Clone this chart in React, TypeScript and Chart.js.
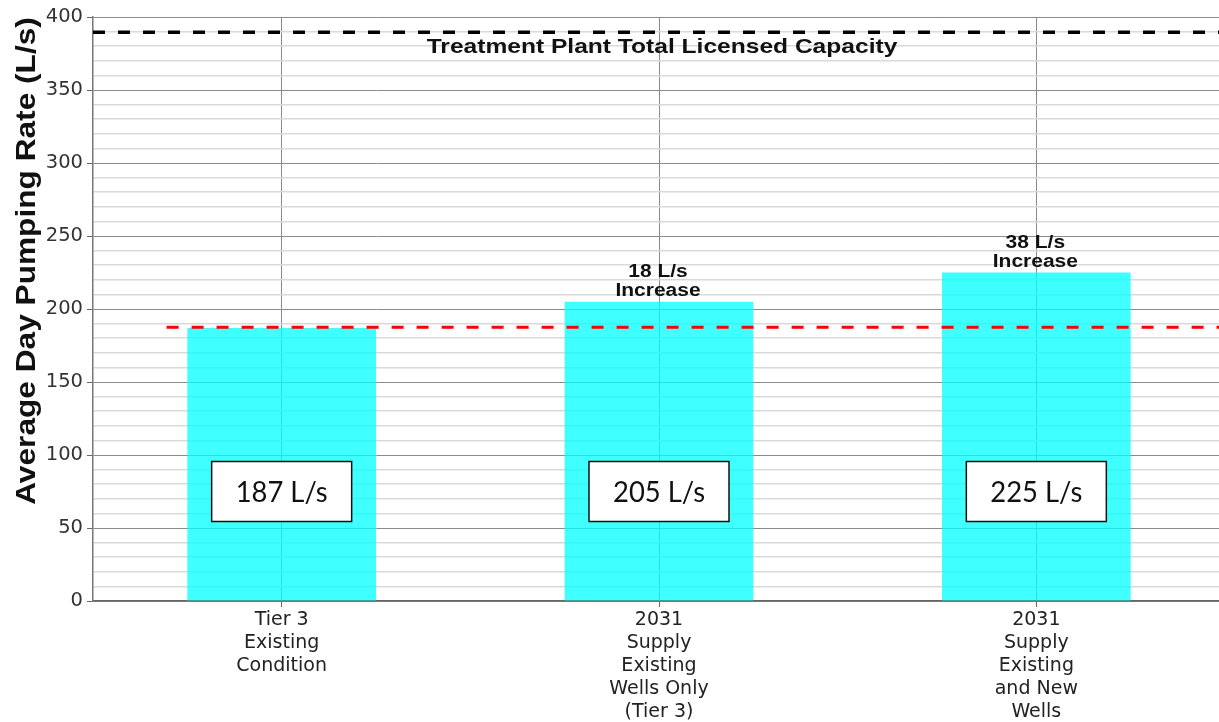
import React, { useEffect, useRef } from "react";
import { Chart, registerables } from "chart.js";

Chart.register(...registerables);

// ---- data ----
const categories: string[][] = [
  ["Tier 3", "Existing", "Condition"],
  ["2031", "Supply", "Existing", "Wells Only", "(Tier 3)"],
  ["2031", "Supply", "Existing", "and New", "Wells"],
];
const pumpingRates: number[] = [187, 205, 225];
const valueLabels: string[] = ["187 L/s", "205 L/s", "225 L/s"];
const increaseLabels: (string[] | null)[] = [null, ["18 L/s", "Increase"], ["38 L/s", "Increase"]];
const capacityValue = 389.5;
const capacityLabel = "Treatment Plant Total Licensed Capacity";
const existingValue = 187.5;
const yAxisTitle = "Average Day Pumping Rate (L/s)";
const yMin = 0;
const yMax = 400;
const yMinorStep = 10;
const yMajorStep = 50;
const valueBoxLevel = 75;

function drawStretched(
  ctx: CanvasRenderingContext2D,
  text: string,
  x: number,
  y: number,
  font: string,
  sx: number,
  color: string,
  rotate = 0
) {
  ctx.save();
  ctx.translate(x, y);
  if (rotate) ctx.rotate(rotate);
  ctx.scale(sx, 1);
  ctx.font = font;
  ctx.fillStyle = color;
  ctx.textAlign = "center";
  ctx.textBaseline = "alphabetic";
  ctx.fillText(text, 0, 0);
  ctx.restore();
}

const overlayPlugin = {
  id: "overlay",
  afterDatasetsDraw(chart: any) {
    const { ctx, chartArea } = chart;
    const xs = chart.scales.x;
    const ys = chart.scales.y;
    const catW = xs.getPixelForValue(1) - xs.getPixelForValue(0);
    ctx.save();

    // capacity line
    const yc = ys.getPixelForValue(capacityValue);
    ctx.setLineDash([12, 13]);
    ctx.lineWidth = 3.5;
    ctx.strokeStyle = "#000000";
    ctx.beginPath();
    ctx.moveTo(chartArea.left, yc);
    ctx.lineTo(chartArea.right, yc);
    ctx.stroke();

    // existing level line
    const ye = ys.getPixelForValue(existingValue);
    ctx.strokeStyle = "#ff0000";
    ctx.lineWidth = 3;
    ctx.beginPath();
    ctx.moveTo(xs.getPixelForValue(0) - catW * 0.305, ye);
    ctx.lineTo(chartArea.right, ye);
    ctx.stroke();
    ctx.setLineDash([]);

    // capacity label
    drawStretched(
      ctx,
      capacityLabel,
      (chartArea.left + chartArea.right) / 2 + 3,
      yc + 21,
      "bold 21px 'Liberation Sans', Arial, sans-serif",
      1.17,
      "#111111"
    );

    // increase labels
    increaseLabels.forEach((lines, i) => {
      if (!lines) return;
      const cx = xs.getPixelForValue(i) - 1;
      const top = ys.getPixelForValue(pumpingRates[i]);
      drawStretched(ctx, lines[0], cx, top - 25, "bold 17.5px 'Liberation Sans', Arial, sans-serif", 1.2, "#111111");
      drawStretched(ctx, lines[1], cx, top - 6, "bold 17.5px 'Liberation Sans', Arial, sans-serif", 1.2, "#111111");
    });

    // value boxes
    const by = ys.getPixelForValue(valueBoxLevel);
    valueLabels.forEach((label, i) => {
      const cx = xs.getPixelForValue(i);
      const bw = 140;
      const bh = 60;
      ctx.fillStyle = "#ffffff";
      ctx.fillRect(cx - bw / 2, by - bh / 2, bw, bh);
      ctx.lineWidth = 1.5;
      ctx.strokeStyle = "#111111";
      ctx.strokeRect(cx - bw / 2, by - bh / 2, bw, bh);
      ctx.font = "28px Lato, 'Open Sans', sans-serif";
      const w = ctx.measureText(label).width;
      drawStretched(ctx, label, cx, by + 10, "28px Lato, 'Open Sans', sans-serif", 92 / w, "#111111");
    });

    // y axis title
    drawStretched(
      ctx,
      yAxisTitle,
      35,
      261,
      "bold 28px 'Liberation Sans', Arial, sans-serif",
      1.13,
      "#111111",
      -Math.PI / 2
    );

    ctx.restore();
  },
};

export default function App() {
  const canvasRef = useRef<HTMLCanvasElement | null>(null);

  useEffect(() => {
    if (!canvasRef.current) return;
    const chart = new Chart(canvasRef.current, {
      type: "bar",
      data: {
        labels: categories,
        datasets: [
          {
            data: pumpingRates,
            backgroundColor: "rgba(0,255,255,0.75)",
            borderWidth: 0,
            barPercentage: 0.5,
            categoryPercentage: 1.0,
          },
        ],
      },
      options: {
        responsive: false,
        animation: false,
        devicePixelRatio: 1,
        layout: { padding: { top: 17, left: 0, right: 0, bottom: 0 } },
        plugins: {
          legend: { display: false },
          tooltip: { enabled: false },
          title: { display: false },
        },
        scales: {
          x: {
            type: "category",
            offset: true,
            grid: {
              offset: false,
              color: "#8a8a8a",
              lineWidth: 1,
              drawTicks: true,
              tickLength: 6,
              tickColor: "#666666",
            },
            border: { color: "#666666", width: 1.5 },
            ticks: {
              font: { family: "'DejaVu Sans', sans-serif", size: 19 },
              color: "#222222",
              padding: 2,
              maxRotation: 0,
              autoSkip: false,
            },
            afterFit: (s: any) => {
              s.height = 121;
            },
          },
          y: {
            min: yMin,
            max: yMax,
            ticks: {
              stepSize: yMinorStep,
              autoSkip: false,
              callback: (v: any) => (Number(v) % yMajorStep === 0 ? String(v) : ""),
              font: { family: "'DejaVu Sans', sans-serif", size: 19.5 },
              color: "#333333",
              padding: 4,
            },
            grid: {
              color: (c: any) => (c.tick && c.tick.value % yMajorStep === 0 ? "#8a8a8a" : "#d9d9d9"),
              lineWidth: (c: any) => (c.tick && c.tick.value % yMajorStep === 0 ? 1 : 1.5),
              tickColor: (c: any) => (c.tick && c.tick.value % yMajorStep === 0 ? "#666666" : "rgba(0,0,0,0)"),
              tickLength: 6,
            },
            border: { color: "#777777", width: 1.5 },
            afterFit: (s: any) => {
              s.width = 93;
            },
          },
        },
      },
      plugins: [overlayPlugin],
    });
    return () => chart.destroy();
  }, []);

  return (
    <div
      style={{
        position: "fixed",
        left: 0,
        top: 0,
        width: 1219,
        height: 722,
        overflow: "hidden",
        background: "#ffffff",
      }}
    >
      <canvas ref={canvasRef} width={1225} height={722} style={{ display: "block" }} />
    </div>
  );
}
